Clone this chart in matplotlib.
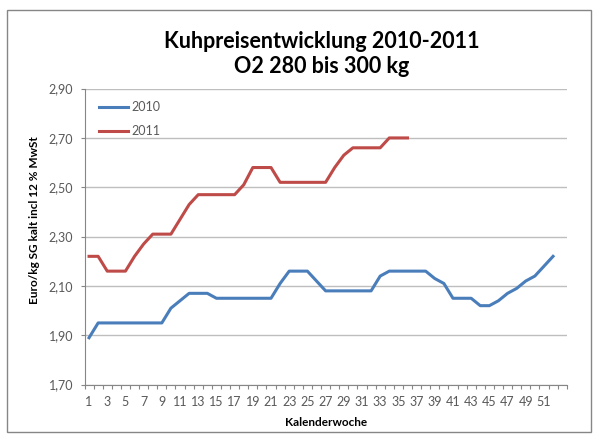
import matplotlib.pyplot as plt
from matplotlib.patches import Rectangle
from matplotlib.ticker import FixedLocator, FuncFormatter

# Kalenderwochen
weeks_2010 = list(range(1, 53))
weeks_2011 = list(range(1, 37))

# Euro/kg
price_2010 = [1.89, 1.95, 1.95, 1.95, 1.95, 1.95, 1.95, 1.95, 1.95, 2.01,
              2.04, 2.07, 2.07, 2.07, 2.05, 2.05, 2.05, 2.05, 2.05, 2.05,
              2.05, 2.11, 2.16, 2.16, 2.16, 2.12, 2.08, 2.08, 2.08, 2.08,
              2.08, 2.08, 2.14, 2.16, 2.16, 2.16, 2.16, 2.16, 2.13, 2.11,
              2.05, 2.05, 2.05, 2.02, 2.02, 2.04, 2.07, 2.09, 2.12, 2.14,
              2.18, 2.22]
price_2011 = [2.22, 2.22, 2.16, 2.16, 2.16, 2.22, 2.27, 2.31, 2.31, 2.31,
              2.37, 2.43, 2.47, 2.47, 2.47, 2.47, 2.47, 2.51, 2.58, 2.58,
              2.58, 2.52, 2.52, 2.52, 2.52, 2.52, 2.52, 2.58, 2.63, 2.66,
              2.66, 2.66, 2.66, 2.70, 2.70, 2.70]

y_ticks = [1.70, 1.90, 2.10, 2.30, 2.50, 2.70, 2.90]
x_labels = list(range(1, 53, 2))

W, H = 602, 437
plt.rcParams['font.family'] = ["Lato", "DejaVu Sans"]

fig = plt.figure(figsize=(W / 100, H / 100), dpi=100)

# chart area border
fig.patches.append(Rectangle((7 / W, 1 - 432 / H), (591 - 7) / W, (432 - 10) / H,
                             transform=fig.transFigure, fill=False,
                             edgecolor="#868686", linewidth=1.0))

left, right, top, bottom = 84.5, 566.7, 88.6, 384.6
ax = fig.add_axes([left / W, 1 - bottom / H, (right - left) / W, (bottom - top) / H])

ax.plot(weeks_2010, price_2010, color="#4A7EBB", linewidth=2.2, label="2010",
        solid_joinstyle="round")
ax.plot(weeks_2011, price_2011, color="#BE4B48", linewidth=2.2, label="2011",
        solid_joinstyle="round")

ax.set_xlim(0.5, 53.5)
ax.set_ylim(1.70, 2.90)

ax.yaxis.set_major_locator(FixedLocator(y_ticks))
ax.yaxis.set_major_formatter(FuncFormatter(lambda v, p: f"{v:.2f}".replace(".", ",")))
ax.xaxis.set_major_locator(FixedLocator(x_labels))
ax.xaxis.set_minor_locator(FixedLocator([w + 0.5 for w in range(0, 54)]))

ax.tick_params(axis="y", colors="#868686", labelcolor="#595959", labelsize=9,
               length=3, width=0.8, pad=5)
ax.tick_params(axis="x", which="major", length=0, labelcolor="#595959",
               labelsize=9, pad=8)
ax.tick_params(axis="x", which="minor", length=3, width=0.8, color="#868686")

ax.grid(axis="y", color="#BEBEBE", linewidth=1.0)
ax.set_axisbelow(True)
for s in ["top", "right"]:
    ax.spines[s].set_visible(False)
for s in ["left", "bottom"]:
    ax.spines[s].set_color("#868686")
    ax.spines[s].set_linewidth(0.8)

ax.legend(loc="upper left", bbox_to_anchor=(0.030, 0.958), frameon=False,
          borderpad=0, borderaxespad=0, handlelength=2.3, handletextpad=0.3,
          labelspacing=0.95, prop={"size": 9})
for t in ax.get_legend().get_texts():
    t.set_color("#595959")

fig.text(322 / W, 1 - 54 / H, "Kuhpreisentwicklung 2010-2011\nO2 280 bis 300 kg",
         ha="center", va="center", fontsize=15.5, fontweight="bold",
         linespacing=1.2)
fig.text(35 / W, 1 - 220 / H, "Euro/kg SG kalt incl 12 % MwSt", rotation=90,
         ha="center", va="center", fontsize=8.5, fontweight="bold")
fig.text(325.6 / W, 1 - 423 / H, "Kalenderwoche", ha="center", va="center",
         fontsize=8.5, fontweight="bold")

fig.savefig("out.png", dpi=100)
